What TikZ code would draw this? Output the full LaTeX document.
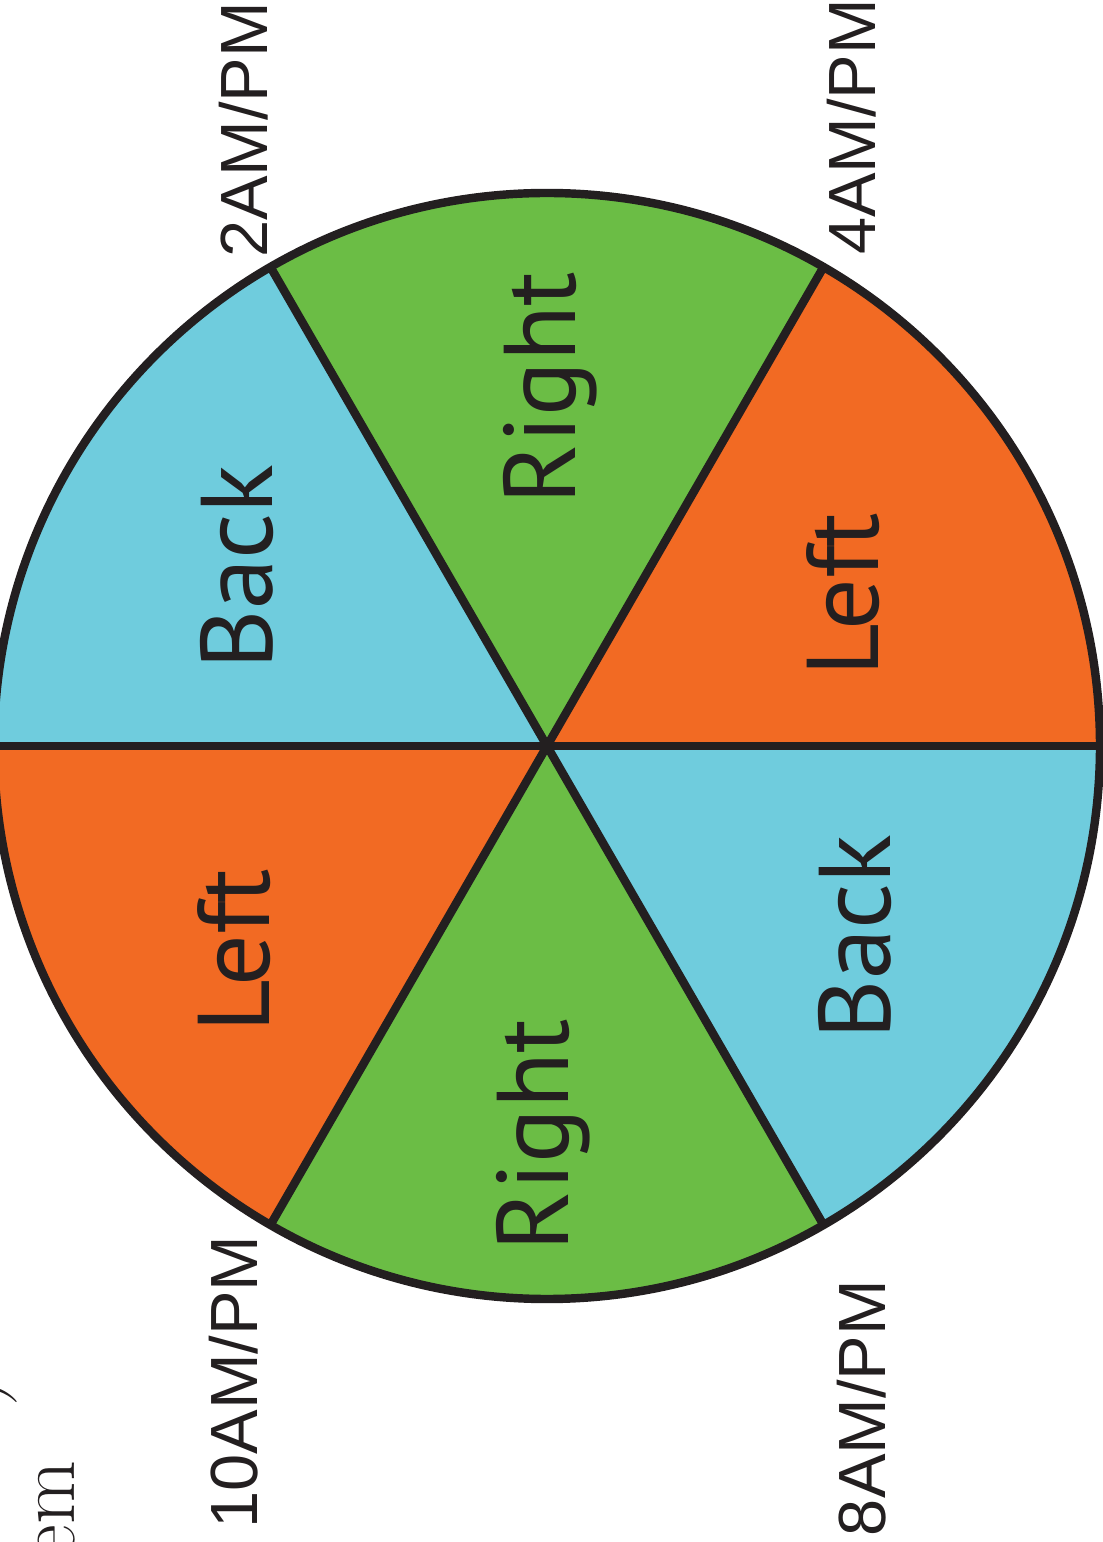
\documentclass[tikz,border=0pt]{standalone}
\usepackage{fontspec}
\usepackage{tikz}
\usetikzlibrary{positioning, calc}

\newfontfamily\wedgefont{PT Sans}
\newfontfamily\clockfont{Liberation Sans}

\definecolor{wedgeorange}{HTML}{F26A23}
\definecolor{wedgegreen}{HTML}{6BBD45}
\definecolor{wedgeblue}{HTML}{6FCCDD}
\definecolor{rimdark}{HTML}{231F20}

\begin{document}
\begin{tikzpicture}[
    rim/.style={
        draw=rimdark,
        line width=2.4pt
    },
    wedgelabel/.style={
        rotate=90,
        anchor=base,
        inner sep=0pt,
        text=rimdark,
        font=\wedgefont\fontsize{29pt}{34pt}\selectfont
    },
    clocklabel/.style={
        rotate=90,
        anchor=base,
        inner sep=0pt,
        text=rimdark,
        font=\clockfont\fontsize{19pt}{23pt}\selectfont
    },
    pagetext/.style={
        rotate=90,
        inner sep=0pt,
        text=rimdark,
        font=\fontsize{23.5pt}{28pt}\selectfont
    }
]

\useasboundingbox (-5.47,-7.96) rectangle (5.55,7.46);

\coordinate (hub) at (0,0);

% wedges, counterclockwise from the right
\foreach \a/\col in {0/wedgeorange, 60/wedgegreen, 120/wedgeblue,
                     180/wedgeorange, 240/wedgegreen, 300/wedgeblue}
    \fill[\col] (hub) -- (\a:5.53) arc[start angle=\a, end angle=\a+60, radius=5.53] -- cycle;

\foreach \a in {0, 60, 120, 180, 240, 300}
    \draw[rim] (hub) -- (\a:5.53);
\draw[rim] (hub) circle[radius=5.53];

\node[wedgelabel] (righttop)  at ( 0.28, 3.58) {Right};
\node[wedgelabel] (lefttop)   at ( 3.31, 1.51) {Left};
\node[wedgelabel] (backtop)   at (-2.75, 1.79) {Back};
\node[wedgelabel] (leftlow)   at (-2.77,-2.05) {Left};
\node[wedgelabel] (rightlow)  at ( 0.21,-3.89) {Right};
\node[wedgelabel] (backlow)   at ( 3.43,-1.91) {Back};

\node[clocklabel] (two)   at (-2.79, 6.16) {2AM/PM};
\node[clocklabel] (four)  at ( 3.28, 6.19) {4AM/PM};
\node[clocklabel] (ten)   at (-2.89,-6.36) {10AM/PM};
\node[clocklabel] (eight) at ( 3.38,-6.62) {8AM/PM};

\node[pagetext, anchor=base east] (em)    at (-4.72,-7.14) {em};
\node[pagetext, anchor=base east] (paren) at (-5.50,-6.31) {)};

\end{tikzpicture}
\end{document}
